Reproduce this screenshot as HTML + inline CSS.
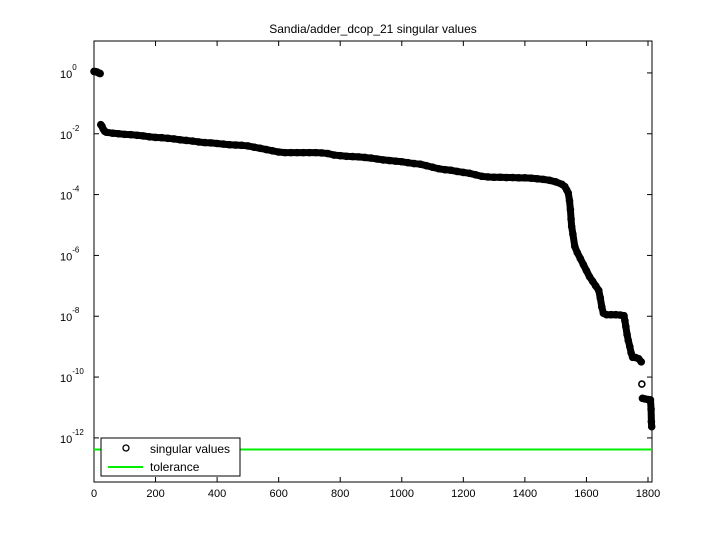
<!DOCTYPE html>
<html><head><meta charset="utf-8"><style>
body{margin:0;background:#fff;}
svg{display:block;font-family:"Liberation Sans",sans-serif;}
</style></head><body>
<svg id="chart" width="720" height="540">
<rect x="0" y="0" width="720" height="540" fill="#fff"/>
<text x="373" y="33" font-size="12" text-anchor="middle">Sandia/adder_dcop_21 singular values</text>
<g id="axes"></g>
<g id="marks"></g>
<g id="legend">
<rect x="101" y="438" width="139" height="38" fill="#fff" stroke="#000"/>
<circle cx="126" cy="448" r="3" fill="none" stroke="#000" stroke-width="1.3"/>
<text x="150" y="453" font-size="12">singular values</text>
<line x1="108" y1="467" x2="143" y2="467" stroke="#00ee00" stroke-width="2"/>
<text x="150" y="471" font-size="12">tolerance</text>
</g>
</svg>
<script>
const xTicks=[0,200,400,600,800,1000,1200,1400,1600,1800];
const yTickExps=[0,-2,-4,-6,-8,-10,-12];
const tolerance=-12.38;
const svIndex=[0,5,10,15,20,22,26,30,35,40,60,80,100,120,140,160,180,200,220,240,260,280,300,320,340,360,380,400,420,440,460,480,500,520,540,560,580,600,620,640,660,680,700,720,740,760,780,800,820,840,860,880,900,920,940,960,980,1000,1020,1040,1060,1080,1100,1120,1140,1160,1180,1200,1220,1240,1260,1280,1300,1320,1340,1360,1380,1400,1420,1440,1460,1480,1500,1520,1530,1536,1541,1545,1548,1550,1552,1556,1562,1570,1580,1590,1600,1610,1620,1630,1640,1645,1650,1655,1665,1680,1695,1710,1722,1725,1728,1732,1736,1741,1745,1750,1760,1770,1778,1780,1782,1790,1800,1808,1810,1811,1812];
const svLog10=[0.05,0.04,0.03,0.0,-0.02,-1.7,-1.75,-1.85,-1.92,-1.95,-1.98,-2.0,-2.02,-2.03,-2.05,-2.07,-2.1,-2.12,-2.13,-2.15,-2.17,-2.2,-2.22,-2.24,-2.27,-2.29,-2.3,-2.32,-2.34,-2.36,-2.37,-2.38,-2.4,-2.44,-2.48,-2.52,-2.56,-2.6,-2.62,-2.62,-2.62,-2.62,-2.62,-2.62,-2.63,-2.65,-2.7,-2.72,-2.74,-2.75,-2.76,-2.78,-2.8,-2.83,-2.86,-2.88,-2.9,-2.92,-2.95,-2.98,-3.0,-3.05,-3.1,-3.15,-3.18,-3.2,-3.24,-3.27,-3.3,-3.35,-3.4,-3.42,-3.43,-3.43,-3.44,-3.44,-3.45,-3.45,-3.46,-3.48,-3.5,-3.53,-3.58,-3.66,-3.74,-3.85,-3.95,-4.2,-4.5,-4.8,-5.05,-5.3,-5.7,-5.9,-6.1,-6.3,-6.5,-6.7,-6.85,-7.0,-7.15,-7.4,-7.7,-7.9,-7.95,-7.95,-7.95,-7.96,-7.98,-8.15,-8.34,-8.6,-8.8,-9.0,-9.2,-9.35,-9.36,-9.4,-9.5,-10.23,-10.7,-10.72,-10.74,-10.75,-11.05,-11.47,-11.63];

const NS='http://www.w3.org/2000/svg';
const L=94,R=652,T=41,B=482,XMAX=1813,YTOP=1.05,YBOT=-13.45;
function xs(v){return L+(v/XMAX)*(R-L);}
function ys(e){return T+(YTOP-e)/(YTOP-YBOT)*(B-T);}
function mk(tag,attrs,parent){const el=document.createElementNS(NS,tag);for(const k in attrs)el.setAttribute(k,attrs[k]);parent.appendChild(el);return el;}
const axes=document.getElementById('axes');
const marks=document.getElementById('marks');
const frame=mk('rect',{x:L,y:T,width:R-L,height:B-T,fill:'none',stroke:'#000'},axes);


xTicks.forEach(v=>{const x=xs(v);
 const t1=mk('line',{x1:x,y1:B,x2:x,y2:B-5,stroke:'#000'},axes);
 
 
 const t2=mk('line',{x1:x,y1:T,x2:x,y2:T+5,stroke:'#000'},axes);
 
 
 const tx=mk('text',{x:x,y:B+15,'font-size':11,'text-anchor':'middle'},axes);tx.textContent=v;
 
 
});
yTickExps.forEach(e=>{const y=ys(e);
 const t1=mk('line',{x1:L,y1:y,x2:L+5,y2:y,stroke:'#000'},axes);
 
 
 const t2=mk('line',{x1:R,y1:y,x2:R-5,y2:y,stroke:'#000'},axes);
 
 
 const tx=mk('text',{x:60,y:y+5,'font-size':11},axes);
 tx.textContent='10';
 
 
 const sp=mk('tspan',{dy:-8,'font-size':8},tx);sp.textContent=e;
});
let seg=[];
function flush(){
 if(seg.length>1){
  const pl=mk('polyline',{points:seg.map(p=>p.join(',')).join(' '),fill:'none',stroke:'#000','stroke-width':7,'stroke-linecap':'round','stroke-linejoin':'round'},marks);
  
  
 }
 seg=[];
}
svIndex.forEach((v,i)=>{
 const p=[xs(v),ys(svLog10[i])];
 if(seg.length){const q=seg[seg.length-1];if(Math.hypot(p[0]-q[0],p[1]-q[1])>13)flush();}
 seg.push(p);
});
flush();
svIndex.forEach((v,i)=>{
 const c=mk('circle',{cx:xs(v),cy:ys(svLog10[i]),r:3,fill:'none',stroke:'#000','stroke-width':1.6},marks);
 
 
});
const tl=mk('line',{x1:L,y1:ys(tolerance),x2:R,y2:ys(tolerance),stroke:'#00ee00','stroke-width':2},marks);


</script>
</body></html>
